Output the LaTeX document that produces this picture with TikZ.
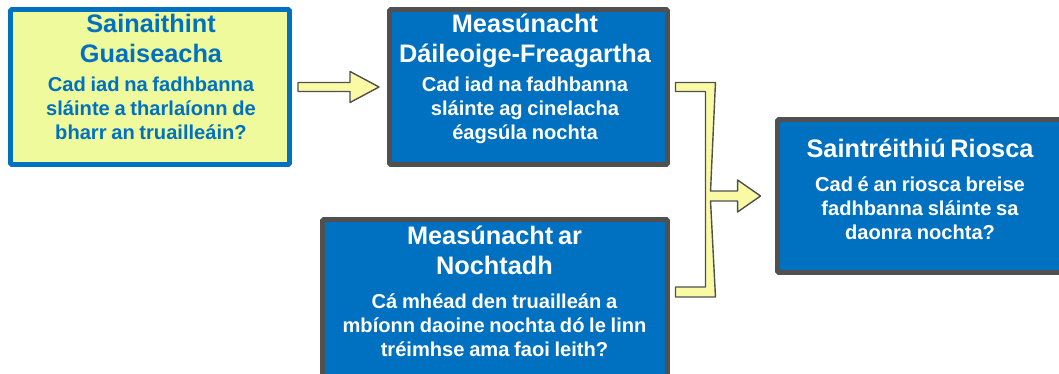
\documentclass[tikz,border=0pt]{standalone}
\usepackage{fontspec}
\setmainfont{Liberation Sans}
\usepackage{tikz}
\usetikzlibrary{positioning,calc}
\definecolor{myblue}{RGB}{0,112,192}
\definecolor{mygrey}{RGB}{80,80,80}
\definecolor{myyellow}{RGB}{238,250,155}
\definecolor{arrowyellow}{RGB}{250,250,165}
\newcommand{\ttl}{\fontsize{18}{21.3}\selectfont}
\newcommand{\bdy}{\fontsize{14.3}{17}\selectfont}
\newdimen\px \px=0.025cm
\begin{document}
\begin{tikzpicture}[
          x=\px,y=\px,
          stepbox/.style={rectangle,draw=mygrey,fill=myblue,line width=3.5pt,inner sep=0pt,rounded corners=1pt},
          firstbox/.style={stepbox,draw=myblue,fill=myyellow},
          boxtext/.style={anchor=base,align=center,inner sep=0pt,font=\bfseries,text=white},
          blockarrow/.style={draw=mygrey,fill=arrowyellow,line width=1pt,line join=round}
          ]
          \useasboundingbox[fill=white] (0,0) rectangle (1059,374);
          % the boxes
          \node[firstbox,minimum width=279\px,minimum height=155\px] (haz) at (150,287) {};
          \node[stepbox,minimum width=278\px,minimum height=155\px] (dose) at (528.5,287) {};
          \node[stepbox,minimum width=345\px,minimum height=175\px] (expo) at (495,67) {};
          \node[stepbox,minimum width=284\px,minimum height=153\px] (risk) at (919.5,178) {};
          % the texts
          \node[boxtext,text=myblue,text width=7cm] (hazt) at (151,341)
            {{\ttl Sainaithint\\Guaiseacha\par}\vspace{3.5pt}
             {\bdy Cad iad na fadhbanna\\sláinte a tharlaíonn de\\bharr an truailleáin?\par}};
          \node[boxtext,text width=7cm] (doset) at (525,341)
            {{\ttl Measúnacht\\Dáileoige-Freagartha\par}\vspace{3.5pt}
             {\bdy Cad iad na fadhbanna\\sláinte ag cinelacha\\éagsúla nochta\par}};
          \node[boxtext,text width=8.5cm] (expot) at (494.5,129)
            {{\ttl Measúnacht ar\\Nochtadh\par}\vspace{7pt}
             {\bdy Cá mhéad den truailleán a\\mbíonn daoine nochta dó le linn\\tréimhse ama faoi leith?\par}};
          \node[boxtext,text width=7cm] (riskt) at (920,216)
            {{\ttl Saintréithiú Riosca\par}\vspace{7pt}
             {\bdy Cad é an riosca breise\\fadhbanna sláinte sa\\daonra nochta?\par}};
          % the arrows
          \draw[blockarrow] ($(haz.east)+(6,4.5)$) -- ($(dose.west)+(-37,4.5)$)
            -- ($(dose.west)+(-37,15.5)$) -- ($(dose.west)+(-8,0)$)
            -- ($(dose.west)+(-37,-15.5)$) -- ($(dose.west)+(-37,-4.5)$)
            -- ($(haz.east)+(6,-4.5)$) -- cycle;
          \draw[blockarrow] ($(dose.east)+(5.5,4.5)$) -- ($(dose.east)+(45.5,4.5)$)
            -- ($(risk.west)+(-64.5,5)$) -- ($(risk.west)+(-37.5,5)$)
            -- ($(risk.west)+(-37.5,16)$) -- ($(risk.west)+(-14.5,0)$)
            -- ($(risk.west)+(-37.5,-16)$) -- ($(risk.west)+(-37.5,-5)$)
            -- ($(risk.west)+(-64.5,-5)$) -- ($(expo.east)+(45.5,10)$)
            -- ($(expo.east)+(5.5,10)$) -- ($(expo.east)+(5.5,20)$)
            -- ($(expo.east)+(35.5,20)$) -- ($(dose.east)+(35.5,-4.5)$)
            -- ($(dose.east)+(5.5,-4.5)$) -- cycle;
        \end{tikzpicture}
\end{document}
